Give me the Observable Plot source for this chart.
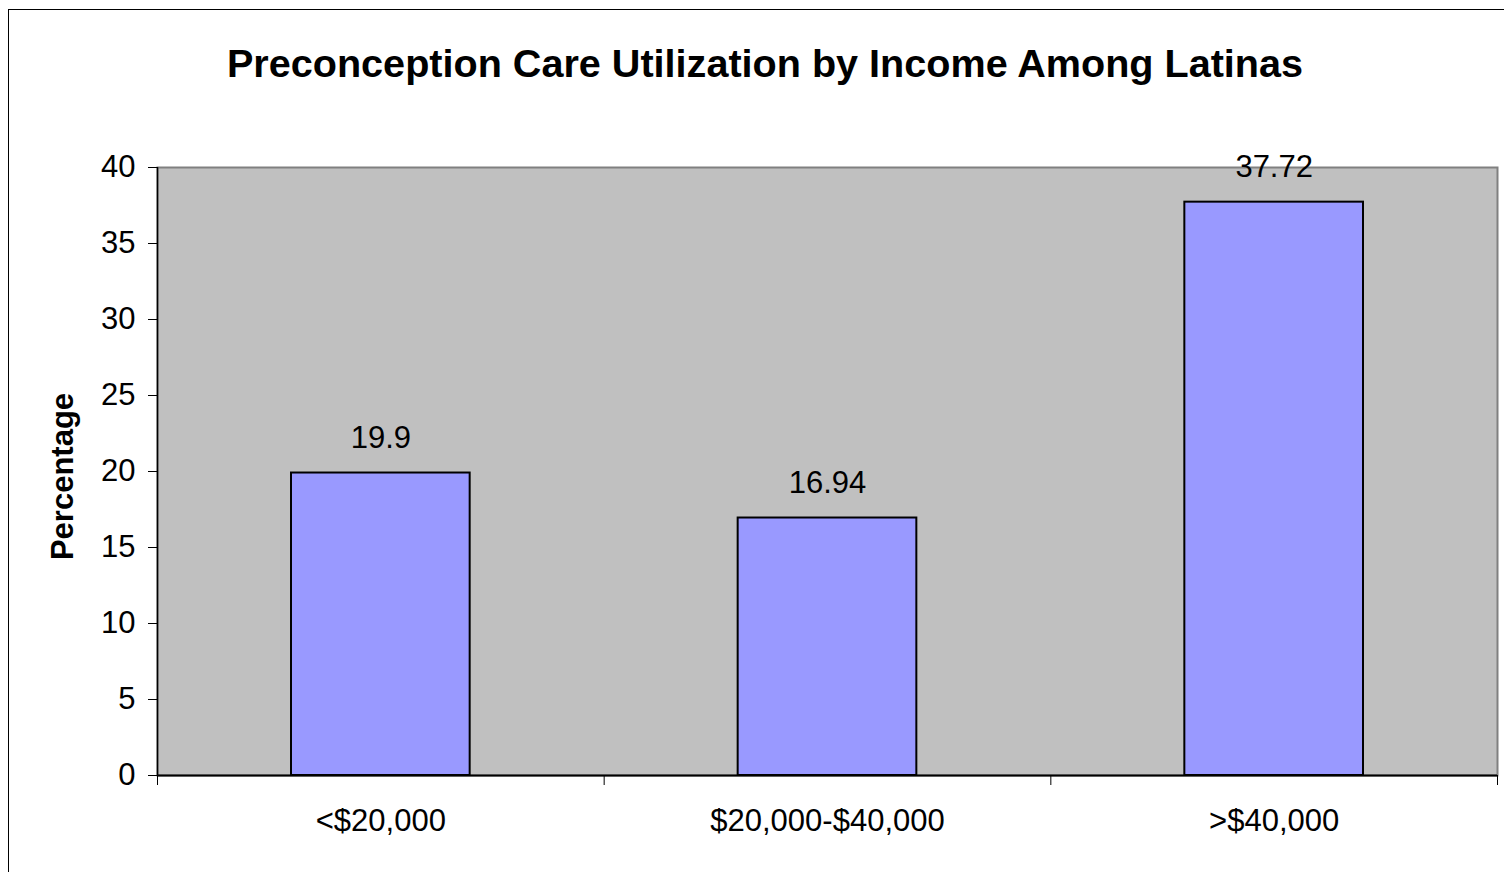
<!DOCTYPE html>
<html><head><meta charset="utf-8">
<script src="https://cdn.jsdelivr.net/npm/d3@7"></script>
<script src="https://cdn.jsdelivr.net/npm/@observablehq/plot@0.6"></script>
<style>
body{margin:0;background:#fff;font-family:"Liberation Sans",Arial,sans-serif;}
#wrap{position:relative;width:1504px;height:872px;overflow:hidden;}
#border{position:absolute;left:8px;top:9px;width:1520px;height:900px;border:1px solid #000;box-sizing:border-box;pointer-events:none;}
#title{height:110px;box-sizing:border-box;padding-top:43px;padding-left:26px;line-height:40px;font-size:39.6px;font-weight:bold;text-align:center;color:#000;white-space:nowrap;}
svg{display:block;}
</style>
</head><body>
<div id="wrap"><div id="border"></div><div id="title"></div><div id="chart"></div></div>
<script>
const title = "Preconception Care Utilization by Income Among Latinas";
const yLabel = "Percentage";
const categories = ["<$20,000", "$20,000-$40,000", ">$40,000"];
const values = [19.9, 16.94, 37.72];
const yTicks = [0, 5, 10, 15, 20, 25, 30, 35, 40];

document.getElementById("title").textContent = title;
const rows = categories.map((c, i) => ({cat: c, i, value: values[i]}));
const font = '"Liberation Sans", Arial, sans-serif';

const chart = Plot.plot({
  width: 1504,
  height: 762,
  marginTop: 57,
  marginBottom: 97,
  marginLeft: 157,
  marginRight: 7,
  style: {fontSize: "31px", fontFamily: font, color: "#000", background: "transparent", overflow: "visible"},
  x: {type: "linear", domain: [0, categories.length]},
  y: {domain: [0, 40]},
  marks: [
    Plot.frame({fill: "#C0C0C0", stroke: "#808080", strokeWidth: 2}),
    Plot.axisY({ticks: yTicks, tickSize: 9, tickPadding: 13, label: null, fontSize: 31}),
    Plot.axisX({ticks: d3.range(categories.length + 1), tickSize: 10, tickFormat: () => "", label: null}),
    Plot.axisX({ticks: categories.map((c, i) => i + 0.5), tickSize: 0, tickPadding: 33, tickFormat: v => categories[Math.floor(v)], label: null, fontSize: 31}),
    Plot.rectY(rows, {x1: d => d.i + 0.3, x2: d => d.i + 0.7, y1: 0, y2: "value", fill: "#9999FF", stroke: "#000", strokeWidth: 2}),
    Plot.ruleX([0], {stroke: "#000", strokeWidth: 1.5}),
    Plot.ruleY([0], {stroke: "#000", strokeWidth: 2}),
    Plot.text(rows, {x: d => d.i + 0.5, y: "value", text: d => String(d.value), lineAnchor: "bottom", dy: -25, fontSize: 31}),
    Plot.text([yLabel], {frameAnchor: "left", text: d => d, rotate: -90, dx: -94, dy: 5, fontWeight: "bold", fontSize: 31, textAnchor: "middle", lineAnchor: "middle"})
  ]
});
document.getElementById("chart").appendChild(chart);
</script>
</body></html>
